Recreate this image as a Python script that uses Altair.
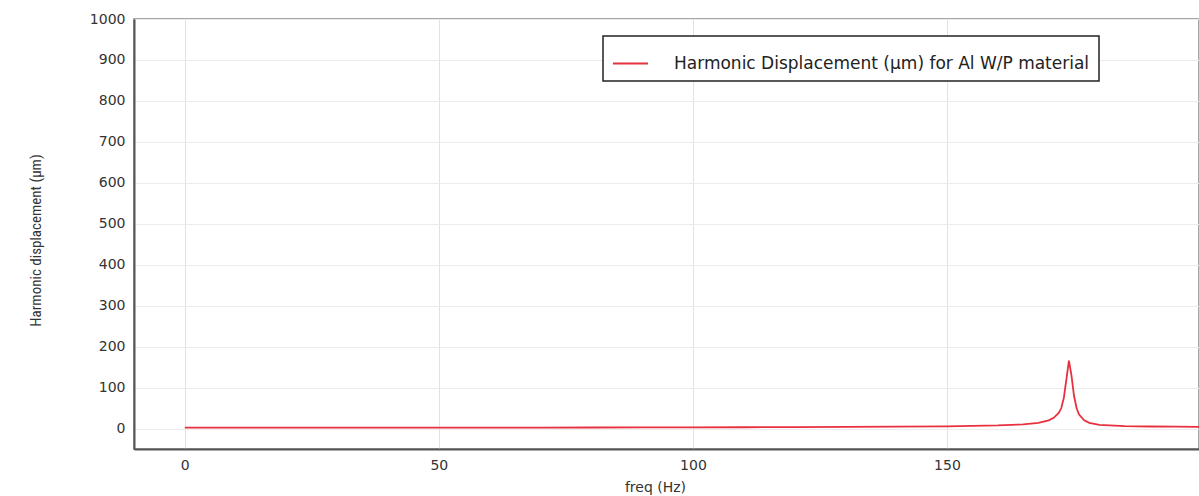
import altair as alt
import pandas as pd

freq = [0, 10, 20, 30, 40, 50, 60, 70, 80, 90, 100, 110, 120, 130, 140, 150, 160, 165, 168, 170,
        171, 172, 172.5, 173, 173.5, 174, 174.5, 175, 175.5, 176, 177, 178, 180, 185, 190, 195, 200]
disp = [2.0, 2.0, 2.0, 2.1, 2.1, 2.2, 2.3, 2.4, 2.5, 2.7, 2.9, 3.1, 3.4, 3.8, 4.4, 5.3, 7.5, 10, 14, 20,
        26, 38, 50, 75, 120, 166, 130, 80, 50, 34, 20, 14, 9, 6, 5, 4.5, 4.2]
series_name = "Harmonic Displacement (µm) for Al W/P material"
x_ticks = [0, 50, 100, 150]
y_ticks = [0, 100, 200, 300, 400, 500, 600, 700, 800, 900, 1000]

df = pd.DataFrame({"freq": freq, "disp": disp, "series": [series_name] * len(freq)})

label_font = "DejaVu Sans"

chart = alt.Chart(df).mark_line(strokeWidth=1.8, clip=True).encode(
    x=alt.X("freq:Q",
            scale=alt.Scale(domain=[-10, 199.6], nice=False, zero=False),
            axis=alt.Axis(title="freq (Hz)", values=x_ticks, format="d", ticks=False,
                          labelPadding=9,
                          labelFont=label_font, labelFontSize=14, labelColor="#333",
                          titleFont=label_font, titleFontSize=14, titleFontWeight="normal",
                          titleColor="#333", titleX=521, titleY=38, titleBaseline="middle",
                          domainColor="#555", domainWidth=2,
                          gridColor="#e2e2e2", gridWidth=1)),
    y=alt.Y("disp:Q",
            scale=alt.Scale(domain=[-50, 1000], nice=False, zero=False),
            axis=alt.Axis(title="Harmonic displacement (µm)", values=y_ticks, format="d",
                          ticks=False,
                          labelPadding=9, labelFont=label_font, labelFontSize=14,
                          labelColor="#333",
                          titleFont="Liberation Sans Narrow, Roboto Condensed, Liberation Sans",
                          titleFontSize=15, titleFontWeight="normal", titleColor="#333",
                          titleX=-99, titleY=221, titleAngle=-90, titleAlign="center",
                          titleBaseline="middle",
                          domainColor="#555", domainWidth=2,
                          gridColor="#ececec", gridWidth=1)),
    color=alt.Color("series:N",
                    scale=alt.Scale(range=["#e8313f"]),
                    legend=alt.Legend(title=None, orient="none", legendX=469, legendY=17,
                                      symbolType="stroke", symbolSize=1225, symbolStrokeWidth=2,
                                      labelFont=label_font, labelFontSize=17, labelColor="#222",
                                      labelOffset=25, labelLimit=800,
                                      fillColor="white", strokeColor="#222",
                                      padding=9, cornerRadius=0)),
).properties(
    width=1065, height=430,
    autosize=alt.AutoSizeParams(type="none"),
    padding={"left": 134, "top": 19, "right": 0, "bottom": 47},
    background="white",
).configure_view(stroke="#888", strokeWidth=1.5).configure_legend(strokeWidth=1.5)

chart.save("out.html", embed_options={"renderer": "svg", "actions": False})
